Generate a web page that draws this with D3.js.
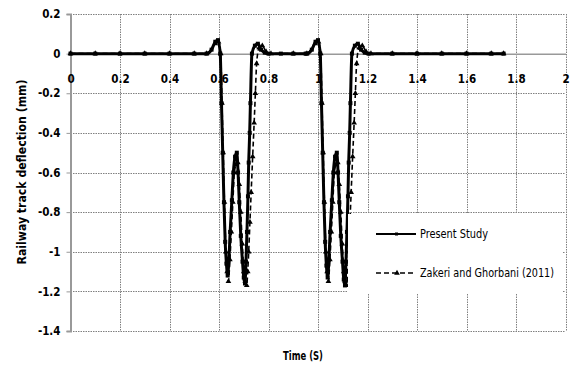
<!DOCTYPE html>
<html><head><meta charset="utf-8">
<script src="https://cdn.jsdelivr.net/npm/d3@7"></script>
<style>
body{margin:0;background:#fff;}
text{font-family:"DejaVu Sans Condensed","Liberation Sans",sans-serif;fill:#000;}
</style></head><body>
<svg id="c" width="573" height="371"></svg>
<script>
const xTicks = [0,0.2,0.4,0.6,0.8,1,1.2,1.4,1.6,1.8,2];
const yTicks = [0.2,0,-0.2,-0.4,-0.6,-0.8,-1,-1.2,-1.4];

const presentT = [0,0.1,0.2,0.3,0.4,0.5,0.55,0.57,0.585,0.596,0.605,0.61,0.615,0.62,0.625,0.63,0.635,0.64,0.645,0.652,0.658,0.665,0.672,0.677,0.682,0.688,0.695,0.7,0.705,0.709,0.713,0.717,0.72,0.724,0.727,0.733,0.745,0.757,0.77,0.785,0.8,0.85,0.9,0.95,
 0.955,0.975,0.99,1.0,1.009,1.014,1.019,1.024,1.029,1.034,1.039,1.044,1.049,1.056,1.062,1.069,1.076,1.081,1.086,1.092,1.099,1.104,1.109,1.113,1.117,1.121,1.124,1.128,1.131,1.137,1.149,1.161,1.174,1.189,1.204,1.3,1.4,1.5,1.6,1.7,1.75];
const presentV = [0,0,0,0,0,0,0,0.02,0.06,0.068,0.0,-0.25,-0.5,-0.75,-0.95,-1.06,-1.12,-1.04,-0.9,-0.74,-0.6,-0.52,-0.5,-0.6,-0.75,-0.92,-1.05,-1.13,-1.16,-1.05,-0.9,-0.72,-0.55,-0.4,-0.25,0.0,0.04,0.05,0.02,0.005,0,0,0,0,
 0,0.02,0.06,0.068,0.0,-0.25,-0.5,-0.75,-0.95,-1.07,-1.13,-1.04,-0.9,-0.74,-0.6,-0.52,-0.5,-0.6,-0.75,-0.92,-1.05,-1.14,-1.17,-1.05,-0.9,-0.72,-0.55,-0.4,-0.25,0.0,0.04,0.05,0.02,0.005,0,0,0,0,0,0,0];

const zakeriT = [0,0.1,0.2,0.3,0.4,0.5,0.55,0.585,0.598,0.607,0.612,0.617,0.622,0.628,0.633,0.638,0.644,0.65,0.656,0.662,0.669,0.676,0.682,0.688,0.694,0.7,0.706,0.712,0.716,0.72,0.725,0.73,0.736,0.742,0.747,0.752,0.762,0.775,0.79,0.81,0.9,
 0.955,0.989,1.002,1.011,1.016,1.021,1.026,1.032,1.037,1.042,1.048,1.054,1.06,1.066,1.073,1.08,1.086,1.092,1.098,1.104,1.11,1.116,1.12,1.124,1.129,1.134,1.14,1.146,1.151,1.156,1.166,1.179,1.194,1.214,1.3,1.4,1.5,1.6,1.7,1.75];
const zakeriV = [0,0,0,0,0,0,0,0.05,0.06,0,-0.25,-0.5,-0.75,-1.0,-1.1,-1.15,-1.04,-0.9,-0.75,-0.6,-0.56,-0.55,-0.66,-0.8,-0.96,-1.1,-1.15,-1.17,-1.1,-1.0,-0.85,-0.7,-0.52,-0.35,-0.2,-0.05,0.03,0.04,0.01,0,0,
 0,0.05,0.06,0,-0.25,-0.5,-0.75,-1.0,-1.1,-1.15,-1.04,-0.9,-0.75,-0.6,-0.56,-0.55,-0.66,-0.8,-0.96,-1.1,-1.15,-1.17,-1.1,-1.0,-0.85,-0.7,-0.52,-0.35,-0.2,-0.05,0.03,0.04,0.01,0,0,0,0,0,0,0];

const seriesNames = ["Present Study","Zakeri and Ghorbani (2011)"];

const svg = d3.select("#c");
const x = d3.scaleLinear().domain([0,2]).range([70.5,565.5]);
const y = d3.scaleLinear().domain([-1.4,0.2]).range([331,14]);
const fmt = d => String(+d.toFixed(1));

// gridlines
const grid = svg.append("g");
grid.selectAll(".hg").data(yTicks.filter(d=>d!==0)).enter().append("line")
  .attr("x1",x(0)).attr("x2",x(2)).attr("y1",d=>Math.round(y(d))+0.5).attr("y2",d=>Math.round(y(d))+0.5)
  .attr("stroke","#808080").attr("stroke-width",1).attr("stroke-dasharray","1.5,1");
grid.selectAll(".vg").data(xTicks.filter(d=>d!==0)).enter().append("line")
  .attr("x1",d=>Math.round(x(d))+0.5).attr("x2",d=>Math.round(x(d))+0.5).attr("y1",y(0.2)).attr("y2",y(-1.4))
  .attr("stroke","#808080").attr("stroke-width",1).attr("stroke-dasharray","1.5,1");

// axes
const yAxis = d3.axisLeft(y).tickValues(yTicks).tickSize(4).tickFormat(fmt);
const gy = svg.append("g").attr("transform",`translate(${x(0)},0)`).call(yAxis);
gy.select(".domain").attr("stroke","#999").attr("stroke-width",2);
gy.selectAll(".tick line").attr("stroke","#999");
gy.selectAll(".tick text").attr("x",-10).style("font-size","11.5px").style("font-weight","bold");

const xAxis = d3.axisBottom(x).tickValues(xTicks).tickSize(0).tickFormat(fmt);
const gx = svg.append("g").attr("transform",`translate(0,${y(0)})`).call(xAxis);
gx.select(".domain").attr("stroke","#999").attr("stroke-width",1.5);
gx.selectAll(".tick text").attr("y",21).style("font-size","11.5px").style("font-weight","bold");

// series
const present = presentT.map((t,i)=>({t,v:presentV[i]}));
const zakeri = zakeriT.map((t,i)=>({t,v:zakeriV[i]}));
const line = d3.line().x(d=>x(d.t)).y(d=>y(d.v)).curve(d3.curveMonotoneX);

svg.append("path").datum(present).attr("d",line).attr("fill","none").attr("stroke","#000").attr("stroke-width",3);
svg.append("g").selectAll("rect").data(present).enter().append("rect")
  .attr("x",d=>x(d.t)-2).attr("y",d=>y(d.v)-2).attr("width",4).attr("height",4).attr("fill","#000");

svg.append("path").datum(zakeri).attr("d",line).attr("fill","none").attr("stroke","#000").attr("stroke-width",1.6).attr("stroke-dasharray","5,3");
const tri = d3.symbol().type(d3.symbolTriangle).size(14);
svg.append("g").selectAll("path").data(zakeri).enter().append("path")
  .attr("d",tri).attr("transform",d=>`translate(${x(d.t)},${y(d.v)})`).attr("fill","#000");

// legend
const lg = svg.append("g");
lg.append("rect").attr("x",348).attr("y",214).attr("width",214).attr("height",79).attr("fill","#fff");
const items = lg.selectAll(".it").data(seriesNames).enter().append("g").attr("transform",(d,i)=>`translate(0,${i===0?234:273})`);
items.append("line").attr("x1",376).attr("x2",416).attr("y1",0).attr("y2",0).attr("stroke","#000")
  .attr("stroke-width",(d,i)=>i===0?2:1.6).attr("stroke-dasharray",(d,i)=>i===0?null:"5,3");
items.filter((d,i)=>i===0).append("rect").attr("x",395).attr("y",-1.5).attr("width",3).attr("height",3).attr("fill","#000");
items.filter((d,i)=>i===1).append("path").attr("d",tri).attr("transform","translate(397,0)").attr("fill","#000");
items.append("text").attr("x",420).attr("y",0).attr("dy","0.35em").style("font-size","12px")
  .attr("textLength",(d,i)=>i===0?68:134).attr("lengthAdjust","spacingAndGlyphs").text(d=>d);

// axis titles
svg.append("text").attr("x",303).attr("y",356).attr("text-anchor","middle").attr("dy","0.35em")
  .style("font-size","12px").style("font-weight","bold")
  .attr("textLength",40).attr("lengthAdjust","spacingAndGlyphs").text("Time (S)");
svg.append("text").attr("transform","translate(22,172) rotate(-90)").attr("text-anchor","middle").attr("dy","0.35em")
  .style("font-size","12px").style("font-weight","bold")
  .attr("textLength",185).attr("lengthAdjust","spacingAndGlyphs").text("Railway track deflection (mm)");
</script></body></html>
